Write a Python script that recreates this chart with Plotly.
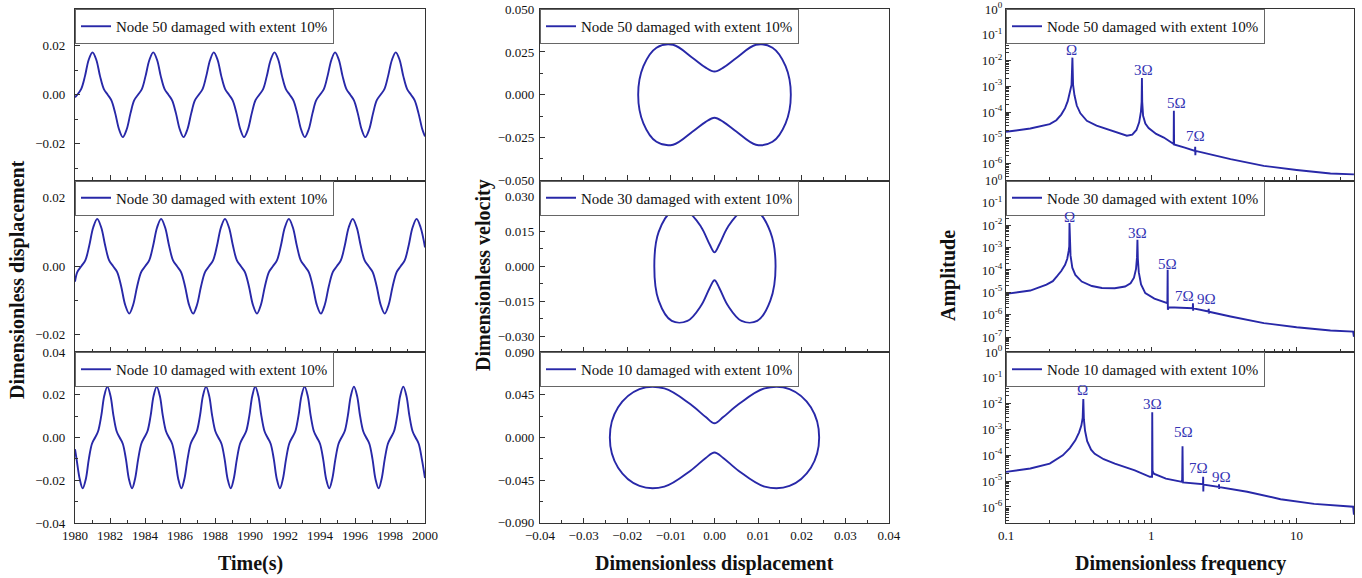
import math
import plotly.graph_objects as go

# ---------------- data ----------------
legend_names = ["Node 50 damaged with extent 10%",
                "Node 30 damaged with extent 10%",
                "Node 10 damaged with extent 10%"]

# Time histories (left column)
t_node50 = [1980.00, 1980.13, 1980.35, 1980.57, 1980.78,
            1981.00, 1981.22, 1981.43, 1981.65, 1981.87, 1982.08, 1982.30, 1982.52, 1982.73, 1982.95, 1983.17, 1983.38, 1983.60, 1983.82, 1984.03, 1984.25,
            1984.47, 1984.69, 1984.90, 1985.12, 1985.34, 1985.55, 1985.77, 1985.99, 1986.20, 1986.42, 1986.64, 1986.85, 1987.07, 1987.29, 1987.50, 1987.72,
            1987.93, 1988.15, 1988.36, 1988.58, 1988.80, 1989.01, 1989.23, 1989.45, 1989.66, 1989.88, 1990.10, 1990.31, 1990.53, 1990.75, 1990.96, 1991.18,
            1991.40, 1991.62, 1991.83, 1992.05, 1992.27, 1992.48, 1992.70, 1992.92, 1993.13, 1993.35, 1993.57, 1993.78, 1994.00, 1994.22, 1994.43, 1994.65,
            1994.86, 1995.08, 1995.29, 1995.51, 1995.73, 1995.94, 1996.16, 1996.38, 1996.59, 1996.81, 1997.03, 1997.24, 1997.46, 1997.68, 1997.89, 1998.11,
            1998.33, 1998.55, 1998.76, 1998.98, 1999.20, 1999.41, 1999.63, 1999.85, 2000.00]
disp_node50 = [-0.0010, 0.0000, 0.0023, 0.0076, 0.0142,
               0.0173, 0.0142, 0.0076, 0.0023, 0.0000, -0.0023, -0.0076, -0.0142, -0.0173, -0.0142, -0.0076, -0.0023, 0.0000, 0.0023, 0.0076, 0.0142,
               0.0173, 0.0142, 0.0076, 0.0023, 0.0000, -0.0023, -0.0076, -0.0142, -0.0173, -0.0142, -0.0076, -0.0023, 0.0000, 0.0023, 0.0076, 0.0142,
               0.0173, 0.0142, 0.0076, 0.0023, 0.0000, -0.0023, -0.0076, -0.0142, -0.0173, -0.0142, -0.0076, -0.0023, 0.0000, 0.0023, 0.0076, 0.0142,
               0.0173, 0.0142, 0.0076, 0.0023, 0.0000, -0.0023, -0.0076, -0.0142, -0.0173, -0.0142, -0.0076, -0.0023, 0.0000, 0.0023, 0.0076, 0.0142,
               0.0173, 0.0142, 0.0076, 0.0023, 0.0000, -0.0023, -0.0076, -0.0142, -0.0173, -0.0142, -0.0076, -0.0023, 0.0000, 0.0023, 0.0076, 0.0142,
               0.0173, 0.0142, 0.0076, 0.0023, 0.0000, -0.0023, -0.0076, -0.0142, -0.0170]

t_node30 = [1980.00, 1980.13, 1980.36, 1980.59, 1980.81, 1981.04,
            1981.27, 1981.50, 1981.73, 1981.95, 1982.18, 1982.41, 1982.64, 1982.87, 1983.10, 1983.32, 1983.55, 1983.78, 1984.01, 1984.24, 1984.46, 1984.69,
            1984.92, 1985.15, 1985.38, 1985.60, 1985.83, 1986.06, 1986.29, 1986.52, 1986.75, 1986.97, 1987.20, 1987.43, 1987.66, 1987.89, 1988.11, 1988.34,
            1988.57, 1988.80, 1989.03, 1989.25, 1989.48, 1989.71, 1989.94, 1990.17, 1990.40, 1990.62, 1990.85, 1991.08, 1991.31, 1991.54, 1991.76, 1991.99,
            1992.22, 1992.45, 1992.68, 1992.90, 1993.13, 1993.36, 1993.59, 1993.82, 1994.05, 1994.27, 1994.50, 1994.73, 1994.96, 1995.19, 1995.41, 1995.64,
            1995.87, 1996.10, 1996.33, 1996.55, 1996.78, 1997.01, 1997.24, 1997.47, 1997.70, 1997.92, 1998.15, 1998.38, 1998.61, 1998.84, 1999.06, 1999.29,
            1999.52, 1999.75, 2000.00]
disp_node30 = [-0.0045, -0.0017, 0.0000, 0.0017, 0.0059, 0.0113,
               0.0138, 0.0113, 0.0059, 0.0017, 0.0000, -0.0017, -0.0059, -0.0113, -0.0138, -0.0113, -0.0059, -0.0017, 0.0000, 0.0017, 0.0059, 0.0113,
               0.0138, 0.0113, 0.0059, 0.0017, 0.0000, -0.0017, -0.0059, -0.0113, -0.0138, -0.0113, -0.0059, -0.0017, 0.0000, 0.0017, 0.0059, 0.0113,
               0.0138, 0.0113, 0.0059, 0.0017, 0.0000, -0.0017, -0.0059, -0.0113, -0.0138, -0.0113, -0.0059, -0.0017, 0.0000, 0.0017, 0.0059, 0.0113,
               0.0138, 0.0113, 0.0059, 0.0017, 0.0000, -0.0017, -0.0059, -0.0113, -0.0138, -0.0113, -0.0059, -0.0017, 0.0000, 0.0017, 0.0059, 0.0113,
               0.0138, 0.0113, 0.0059, 0.0017, 0.0000, -0.0017, -0.0059, -0.0113, -0.0138, -0.0113, -0.0059, -0.0017, 0.0000, 0.0017, 0.0059, 0.0113,
               0.0138, 0.0113, 0.0055]

t_node10 = [1980.00, 1980.09, 1980.27, 1980.44, 1980.62, 1980.79, 1980.97, 1981.15, 1981.32, 1981.50, 1981.67,
            1981.85, 1982.03, 1982.20, 1982.38, 1982.55, 1982.73, 1982.91, 1983.08, 1983.26, 1983.43, 1983.61, 1983.79, 1983.96, 1984.14, 1984.32, 1984.49,
            1984.67, 1984.85, 1985.02, 1985.20, 1985.37, 1985.55, 1985.73, 1985.90, 1986.08, 1986.25, 1986.43, 1986.61, 1986.78, 1986.96, 1987.14, 1987.31,
            1987.49, 1987.67, 1987.84, 1988.02, 1988.19, 1988.37, 1988.55, 1988.72, 1988.90, 1989.07, 1989.25, 1989.43, 1989.60, 1989.78, 1989.96, 1990.13,
            1990.30, 1990.48, 1990.65, 1990.83, 1991.00, 1991.18, 1991.36, 1991.53, 1991.71, 1991.88, 1992.06, 1992.24, 1992.41, 1992.59, 1992.77, 1992.94,
            1993.12, 1993.30, 1993.47, 1993.65, 1993.82, 1994.00, 1994.18, 1994.35, 1994.53, 1994.70, 1994.88, 1995.06, 1995.23, 1995.41, 1995.59, 1995.76,
            1995.94, 1996.12, 1996.29, 1996.47, 1996.64, 1996.82, 1997.00, 1997.17, 1997.35, 1997.52, 1997.70, 1997.88, 1998.05, 1998.23, 1998.41, 1998.58,
            1998.76, 1998.94, 1999.11, 1999.29, 1999.46, 1999.64, 1999.82, 2000.00]
disp_node10 = [-0.0055, -0.0101, -0.0194, -0.0238, -0.0194, -0.0101, -0.0029, 0.0000, 0.0029, 0.0101, 0.0194,
               0.0238, 0.0194, 0.0101, 0.0029, 0.0000, -0.0029, -0.0101, -0.0194, -0.0238, -0.0194, -0.0101, -0.0029, 0.0000, 0.0029, 0.0101, 0.0194,
               0.0238, 0.0194, 0.0101, 0.0029, 0.0000, -0.0029, -0.0101, -0.0194, -0.0238, -0.0194, -0.0101, -0.0029, 0.0000, 0.0029, 0.0101, 0.0194,
               0.0238, 0.0194, 0.0101, 0.0029, 0.0000, -0.0029, -0.0101, -0.0194, -0.0238, -0.0194, -0.0101, -0.0029, 0.0000, 0.0029, 0.0101, 0.0194,
               0.0238, 0.0194, 0.0101, 0.0029, 0.0000, -0.0029, -0.0101, -0.0194, -0.0238, -0.0194, -0.0101, -0.0029, 0.0000, 0.0029, 0.0101, 0.0194,
               0.0238, 0.0194, 0.0101, 0.0029, 0.0000, -0.0029, -0.0101, -0.0194, -0.0238, -0.0194, -0.0101, -0.0029, 0.0000, 0.0029, 0.0101, 0.0194,
               0.0238, 0.0194, 0.0101, 0.0029, 0.0000, -0.0029, -0.0101, -0.0194, -0.0238, -0.0194, -0.0101, -0.0029, 0.0000, 0.0029, 0.0101, 0.0194,
               0.0238, 0.0194, 0.0101, 0.0029, 0.0000, -0.0029, -0.0101, -0.0190]

# Phase portraits (middle column)
pp_disp_node50 = [0.0000, 0.0021, 0.0050, 0.0095, 0.0133, 0.0163, 0.0175, 0.0163, 0.0133, 0.0095, 0.0050, 0.0021, 0.0000,
                  -0.0021, -0.0050, -0.0095, -0.0133, -0.0163, -0.0175, -0.0163, -0.0133, -0.0095, -0.0050, -0.0021, 0.0000]
pp_vel_node50 = [0.0136, 0.0160, 0.0215, 0.0292, 0.0275, 0.0167, 0.0000, -0.0167, -0.0275, -0.0292, -0.0215, -0.0160, -0.0134,
                 -0.0160, -0.0215, -0.0292, -0.0275, -0.0167, 0.0000, 0.0167, 0.0275, 0.0292, 0.0215, 0.0160, 0.0136]
pp_disp_node30 = [0.0000, 0.0011, 0.0031, 0.0062, 0.0098, 0.0128, 0.0140, 0.0128, 0.0098, 0.0062, 0.0031, 0.0011, 0.0000,
                  -0.0011, -0.0031, -0.0062, -0.0098, -0.0128, -0.0138, -0.0128, -0.0098, -0.0062, -0.0031, -0.0011, 0.0000]
pp_vel_node30 = [0.0060, 0.0093, 0.0169, 0.0234, 0.0234, 0.0147, 0.0000, -0.0147, -0.0234, -0.0234, -0.0169, -0.0093, -0.0060,
                 -0.0093, -0.0169, -0.0234, -0.0234, -0.0147, 0.0000, 0.0147, 0.0234, 0.0234, 0.0169, 0.0093, 0.0060]
pp_disp_node10 = [0.0000, 0.0020, 0.0055, 0.0115, 0.0172, 0.0221, 0.0240, 0.0221, 0.0172, 0.0115, 0.0055, 0.0020, 0.0000,
                  -0.0020, -0.0055, -0.0115, -0.0172, -0.0221, -0.0240, -0.0221, -0.0172, -0.0115, -0.0055, -0.0020, 0.0000]
pp_vel_node10 = [0.0150, 0.0215, 0.0350, 0.0518, 0.0510, 0.0318, 0.0000, -0.0318, -0.0510, -0.0518, -0.0350, -0.0215, -0.0158,
                 -0.0215, -0.0350, -0.0518, -0.0510, -0.0318, 0.0000, 0.0318, 0.0510, 0.0518, 0.0350, 0.0215, 0.0150]

# Amplitude spectra (right column)
freq_node50 = [0.100, 0.147, 0.200, 0.222, 0.240, 0.255, 0.266, 0.276, 0.2825, 0.2865,
               0.2895, 0.296, 0.307, 0.325, 0.360, 0.420, 0.494, 0.600, 0.679, 0.740,
               0.790, 0.825, 0.848, 0.858, 0.862, 0.866, 0.878, 0.910, 0.958, 1.08,
               1.22, 1.425, 1.430, 1.435, 1.70, 2.000, 2.005, 2.010, 2.015, 3.51,
               5.94, 10.0, 17.1, 24.8]
amp_node50 = [1.70e-5, 2.29e-5, 3.39e-5, 4.79e-5, 7.94e-5, 1.41e-4, 2.63e-4, 5.62e-4, 1.12e-3, 1.29e-2,
              1.12e-3, 4.47e-4, 1.78e-4, 8.91e-5, 4.57e-5, 2.95e-5, 2.19e-5, 1.51e-5, 1.20e-5, 1.32e-5,
              2.00e-5, 3.98e-5, 1.00e-4, 2.51e-4, 2.09e-3, 2.51e-4, 7.08e-5, 3.55e-5, 2.40e-5, 1.41e-5,
              1.02e-5, 5.75e-6, 1.12e-4, 5.50e-6, 4.17e-6, 3.09e-6, 4.47e-6, 2.09e-6, 3.09e-6, 1.48e-6,
              8.13e-7, 5.62e-7, 4.07e-7, 3.80e-7]
freq_node30 = [0.100, 0.147, 0.190, 0.210, 0.224, 0.240, 0.255, 0.264, 0.270, 0.2725,
               0.2735, 0.2745, 0.278, 0.286, 0.300, 0.332, 0.390, 0.457, 0.560, 0.660,
               0.720, 0.760, 0.785, 0.797, 0.8026, 0.808, 0.820, 0.850, 0.909, 1.05,
               1.19, 1.290, 1.296, 1.300, 1.320, 1.60, 1.930, 1.935, 1.940, 1.945,
               2.480, 2.485, 2.490, 2.495, 3.51, 5.95, 10.0, 17.1, 24.5, 24.8]
amp_node30 = [8.51e-6, 1.20e-5, 2.19e-5, 3.16e-5, 5.13e-5, 8.91e-5, 1.70e-4, 3.16e-4, 7.08e-4, 1.12e-3,
              1.26e-2, 1.12e-3, 4.47e-4, 1.26e-4, 6.03e-5, 3.02e-5, 1.91e-5, 1.55e-5, 1.51e-5, 1.82e-5,
              2.51e-5, 4.47e-5, 1.12e-4, 3.55e-4, 2.24e-3, 3.16e-4, 7.94e-5, 2.24e-5, 9.12e-6, 5.25e-6,
              3.89e-6, 3.24e-6, 1.02e-4, 1.66e-6, 2.14e-6, 2.04e-6, 1.95e-6, 3.24e-6, 1.51e-6, 1.91e-6,
              1.38e-6, 1.82e-6, 1.12e-6, 1.35e-6, 8.32e-7, 4.17e-7, 2.75e-7, 1.95e-7, 1.74e-7, 1.02e-7]
freq_node10 = [0.100, 0.147, 0.200, 0.246, 0.275, 0.300, 0.318, 0.330, 0.337, 0.3405,
               0.3435, 0.350, 0.362, 0.385, 0.408, 0.470, 0.561, 0.770, 0.978, 1.012,
               1.015, 1.020, 1.040, 1.26, 1.630, 1.640, 1.650, 2.270, 2.275, 2.280,
               2.285, 2.920, 2.925, 2.930, 2.935, 4.57, 7.76, 13.2, 24.5, 24.8]
amp_node10 = [2.29e-5, 3.09e-5, 4.79e-5, 1.00e-4, 1.91e-4, 3.80e-4, 7.59e-4, 1.41e-3, 2.82e-3, 1.51e-2,
              2.51e-3, 8.91e-4, 3.55e-4, 1.66e-4, 1.15e-4, 7.08e-5, 4.79e-5, 2.63e-5, 1.48e-5, 1.48e-5,
              4.68e-3, 2.51e-5, 1.95e-5, 1.26e-5, 9.33e-6, 2.24e-4, 8.91e-6, 7.59e-6, 1.48e-5, 3.98e-6,
              7.41e-6, 6.03e-6, 7.59e-6, 5.01e-6, 5.89e-6, 3.89e-6, 2.00e-6, 1.32e-6, 1.02e-6, 5.01e-7]

# Harmonic labels on the spectra
harm_text_node50 = ["Ω", "3Ω", "5Ω", "7Ω"]
harm_freq_node50 = [0.282, 0.877, 1.486, 2.03]
harm_amp_node50 = [2.66e-2, 4.37e-3, 2.19e-4, 1.2e-5]
harm_text_node30 = ["Ω", "3Ω", "5Ω", "7Ω", "9Ω"]
harm_freq_node30 = [0.2735, 0.805, 1.29, 1.70, 2.40]
harm_amp_node30 = [2.34e-2, 4.47e-3, 1.82e-4, 6.9e-6, 5.0e-6]
harm_text_node10 = ["Ω", "3Ω", "5Ω", "7Ω", "9Ω"]
harm_freq_node10 = [0.336, 1.014, 1.67, 2.12, 3.06]
harm_amp_node10 = [3.39e-2, 9.8e-3, 7.9e-4, 3.1e-5, 1.48e-5]

# Tick labels
time_ticks = [1980, 1982, 1984, 1986, 1988, 1990, 1992, 1994, 1996, 1998, 2000]
freq_tickvals = [0.1, 1, 10]
freq_ticktext = ["0.1", "1", "10"]
amp_tickvals = [1, 1e-1, 1e-2, 1e-3, 1e-4, 1e-5, 1e-6, 1e-7]
amp_ticktext = ["10<sup>0</sup>", "10<sup>-1</sup>", "10<sup>-2</sup>", "10<sup>-3</sup>",
                "10<sup>-4</sup>", "10<sup>-5</sup>", "10<sup>-6</sup>", "10<sup>-7</sup>"]

# ---------------- styling / layout ----------------
W, H = 1362, 578
BLUE = "#2828A8"
LABEL_BLUE = "#3535B5"
AXC = "#333333"
FONT = "Liberation Serif, Times New Roman, serif"

XD = [[75 / W, 425 / W], [540 / W, 889 / W], [1006 / W, 1354 / W]]
YD = [[1 - 180.5 / H, 1 - 9 / H], [1 - 352 / H, 1 - 180.5 / H], [1 - 523 / H, 1 - 352 / H]]

series = [
    (t_node50, disp_node50), (t_node30, disp_node30), (t_node10, disp_node10),
    (pp_disp_node50, pp_vel_node50), (pp_disp_node30, pp_vel_node30), (pp_disp_node10, pp_vel_node10),
    (freq_node50, amp_node50), (freq_node30, amp_node30), (freq_node10, amp_node10),
]
harmonics = [
    (harm_text_node50, harm_freq_node50, harm_amp_node50),
    (harm_text_node30, harm_freq_node30, harm_amp_node30),
    (harm_text_node10, harm_freq_node10, harm_amp_node10),
]

left_yranges = [[-0.035, 0.035], [-0.025, 0.025], [-0.04001, 0.04001]]
mid_yranges = [[-0.0501, 0.0501], [-0.0367, 0.0367], [-0.0901, 0.0901]]
mid_ydticks = [0.025, 0.015, 0.045]
right_yranges = [[-6.66, 0], [-7.67, 0], [-6.62, 0]]

x_minor_log = [m * 0.1 for m in range(2, 10)] + [m * 1.0 for m in range(2, 10)] + [20.0]
y_minor_log = [m * 10.0 ** e for e in range(-8, 0) for m in range(2, 10)]

fig = go.Figure()
layout = dict(template="none", width=W, height=H,
              margin=dict(l=0, r=0, t=0, b=0, pad=0, autoexpand=False),
              plot_bgcolor="white", paper_bgcolor="white", showlegend=True,
              font=dict(family=FONT, size=13, color="#111111"))

base_axis = dict(showline=True, linecolor=AXC, linewidth=1.2, mirror=True, ticks="inside",
                 ticklen=5, tickwidth=1, tickcolor=AXC, showgrid=False, zeroline=False,
                 automargin=False,
                 tickfont=dict(family=FONT, size=13, color="#111111"))

annotations = []
for k in range(1, 10):
    col, row = (k - 1) // 3, (k - 1) % 3
    xs, ys = series[k - 1]
    xname = "x" if k == 1 else f"x{k}"
    yname = "y" if k == 1 else f"y{k}"
    lname = "legend" if k == 1 else f"legend{k}"
    fig.add_trace(go.Scatter(
        x=xs, y=ys, mode="lines", name=legend_names[row],
        line=dict(color=BLUE, width=1.9, shape="spline" if col < 2 else "linear", smoothing=1.0),
        xaxis=xname, yaxis=yname, legend=lname, showlegend=True))

    xa = dict(base_axis, domain=XD[col], anchor=yname, showticklabels=(row == 2))
    ya = dict(base_axis, domain=YD[row], anchor=xname)
    if col == 0:
        xa.update(range=[1980, 2000], tickmode="array", tickvals=time_ticks,
                  minor=dict(dtick=1, tick0=1980, ticks="inside", ticklen=3, tickcolor=AXC))
        ya.update(range=left_yranges[row], dtick=0.02, tick0=0, tickformat=".2f",
                  ticklabelstandoff=6,
                  minor=dict(dtick=0.01, tick0=0, ticks="inside", ticklen=3, tickcolor=AXC))
    elif col == 1:
        xa.update(range=[-0.04001, 0.04001], dtick=0.01, tick0=0, tickformat=".2f",
                  minor=dict(dtick=0.005, tick0=0, ticks="inside", ticklen=3, tickcolor=AXC))
        d = mid_ydticks[row]
        ya.update(range=mid_yranges[row], dtick=d, tick0=0, tickformat=".3f",
                  ticklabelstandoff=2,
                  minor=dict(dtick=d / 2, tick0=0, ticks="inside", ticklen=3, tickcolor=AXC))
    else:
        xa.update(type="log", range=[-1, 1.395], tickmode="array", tickvals=freq_tickvals,
                  ticktext=freq_ticktext,
                  minor=dict(tickmode="array", tickvals=x_minor_log, ticks="inside", ticklen=3, tickcolor=AXC))
        ya.update(type="log", range=right_yranges[row], tickmode="array", tickvals=amp_tickvals,
                  ticktext=amp_ticktext,
                  minor=dict(tickmode="array", tickvals=y_minor_log, ticks="inside", ticklen=3, tickcolor=AXC))
        txt, fx, fy = harmonics[row]
        for s, fxx, fyy in zip(txt, fx, fy):
            annotations.append(dict(x=math.log10(fxx), y=math.log10(fyy), xref=xname, yref=yname,
                                    text=s, showarrow=False, xanchor="center", yanchor="middle",
                                    font=dict(family=FONT, size=15, color=LABEL_BLUE)))

    layout["xaxis" if k == 1 else f"xaxis{k}"] = xa
    layout["yaxis" if k == 1 else f"yaxis{k}"] = ya
    layout[lname] = dict(x=XD[col][0], y=YD[row][1], xanchor="left", yanchor="top",
                         xref="paper", yref="paper", bgcolor="white", bordercolor="#666666",
                         borderwidth=1, font=dict(family=FONT, size=15, color="#111111"),
                         itemwidth=30, tracegroupgap=0)

titles = [
    ("<b>Dimensionless displacement</b>", 17 / W, 1 - 280 / H, -90),
    ("<b>Dimensionless velocity</b>", 483 / W, 1 - 275 / H, -90),
    ("<b>Amplitude</b>", 948 / W, 1 - 276 / H, -90),
    ("<b>Time(s)</b>", 250 / W, 1 - 563 / H, 0),
    ("<b>Dimensionless displacement</b>", 714 / W, 1 - 563 / H, 0),
    ("<b>Dimensionless frequency</b>", 1180 / W, 1 - 563 / H, 0),
]
for text, x, y, ang in titles:
    annotations.append(dict(x=x, y=y, xref="paper", yref="paper", text=text, showarrow=False,
                            textangle=ang, xanchor="center", yanchor="middle",
                            font=dict(family=FONT, size=20, color="#111111")))

layout["annotations"] = annotations
fig.update_layout(**layout)
fig.write_html("out.html")
